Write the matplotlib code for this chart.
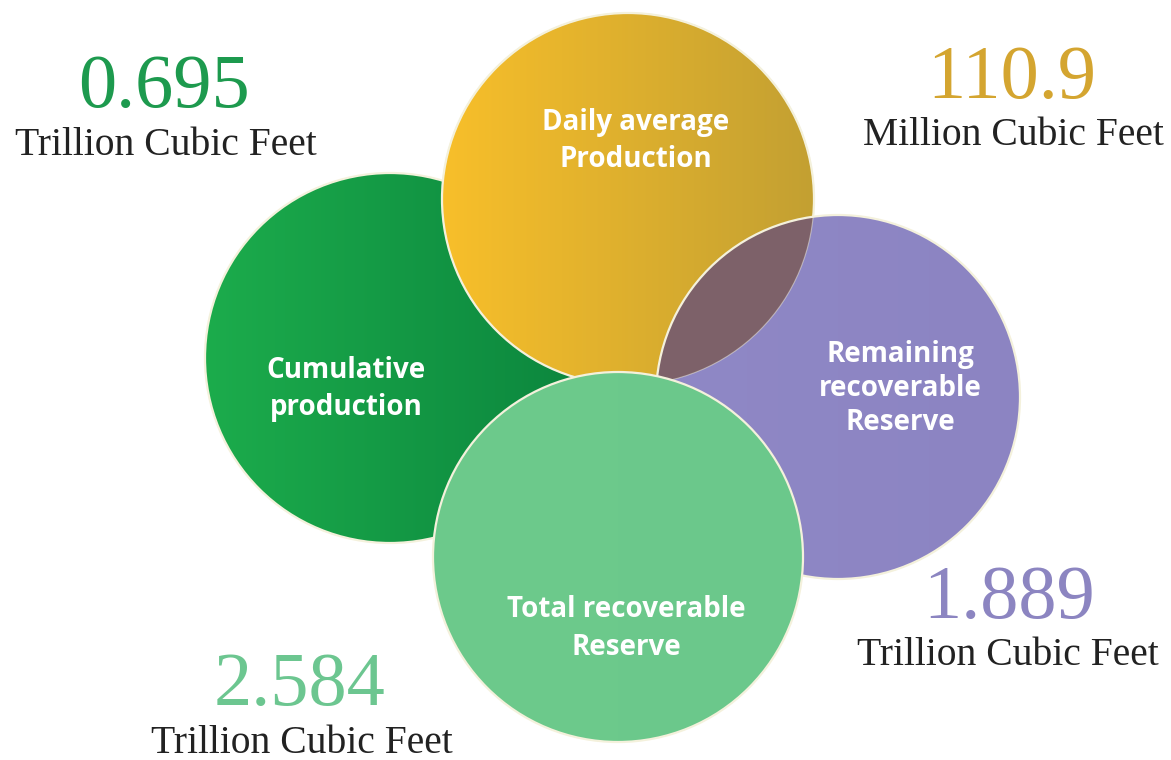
'''Appel des bibliothèques'''
import matplotlib
matplotlib.use('Agg')
import matplotlib.pyplot as plt
import numpy as np
from matplotlib.patches import Circle
from matplotlib.colors import LinearSegmentedColormap

'''Saisie des données'''
# Intitulés des cercles
labels = ['Cumulative\nproduction', 'Daily average\nProduction',
          'Remaining\nrecoverable\nReserve', 'Total recoverable\nReserve']
# Valeurs affichées et unités
values = ['0.695', '110.9', '1.889', '2.584']
units = ['Trillion Cubic Feet', 'Million Cubic Feet',
         'Trillion Cubic Feet', 'Trillion Cubic Feet']

'''Mise en page (pixels)'''
centres = [(390, 358), (628, 199), (838, 397), (618, 557)]
rayons = [185, 186, 182, 185]
pos_label = [(346, 378), (636, 130), (900, 362), (626, 617)]
interligne = [37, 37, 34, 38]
pos_val = [(164, 107), (1012, 98), (1009, 618), (300, 705)]
pos_unit = [(166, 155), (1013, 145), (1008, 665), (302, 753)]
# dégradés gauche -> droite
degrades = [('#1cac4c', '#0c873e'), ('#f8bf2a', '#c3a032'),
            ('#8f88c6', '#8c84c2'), ('#6dca8c', '#6bc88b')]
coul_val = ['#1d9a4e', '#d4a530', '#8c85c1', '#6cc690']
coul_bord = '#f4f1dc'
coul_inter = '#7d6169'

'''Définition de la figure'''
fig = plt.figure(figsize=(11.71, 7.6), dpi=100)
ax = fig.add_axes([0, 0, 1, 1])
ax.axis('off')

'''Tracé des cercles'''
for k in range(4):
    cx, cy = centres[k]
    r = rayons[k]
    z = 1 + 2 * k
    circ = Circle((cx, cy), r, transform=ax.transData)
    cmap = LinearSegmentedColormap.from_list('d%d' % k, degrades[k])
    grad = np.linspace(0, 1, 256).reshape(1, -1)
    im = ax.imshow(grad, cmap=cmap, extent=[cx - r, cx + r, cy + r, cy - r],
                   aspect='auto', zorder=z, interpolation='bilinear')
    im.set_clip_path(circ)
    # intersection or / violet
    if k == 2:
        inter = Circle((cx, cy), r, facecolor=coul_inter, edgecolor='none',
                       zorder=z + 0.5)
        ax.add_patch(inter)
        inter.set_clip_path(Circle(centres[1], rayons[1], transform=ax.transData))
        ax.add_patch(Circle(centres[1], rayons[1], facecolor='none',
                            edgecolor=coul_bord, lw=0.8, alpha=0.5, zorder=z + 0.6))
    ax.add_patch(Circle((cx, cy), r, facecolor='none', edgecolor=coul_bord,
                        lw=1.6, zorder=z + 0.8))

'''Textes'''
for k in range(4):
    x, y = pos_label[k]
    for i, ligne in enumerate(labels[k].split('\n')):
        ax.text(x, y + interligne[k] * i, ligne, ha='center', va='baseline',
                color='white', fontsize=20, fontweight='bold', family='Open Sans',
                zorder=20)
    ax.text(pos_val[k][0], pos_val[k][1], values[k], ha='center', va='baseline',
            color=coul_val[k], fontsize=55, family='Liberation Serif', zorder=20)
    ax.text(pos_unit[k][0], pos_unit[k][1], units[k], ha='center', va='baseline',
            color='#222222', fontsize=28.5, family='Liberation Serif', zorder=20)

ax.set_xlim(0, 1171)
ax.set_ylim(760, 0)

'''Affichage de la figure'''
fig.savefig('out.png', dpi=100, facecolor='white')
